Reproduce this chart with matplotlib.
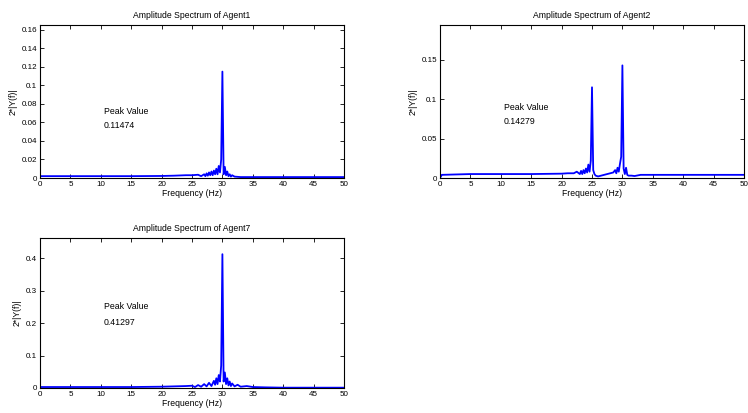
import matplotlib
matplotlib.use("Agg")
import matplotlib.pyplot as plt
from matplotlib.ticker import FuncFormatter

plt.rcParams['font.family'] = ['Liberation Sans', 'DejaVu Sans']

# spectrum values (frequency in Hz, amplitude 2*|Y(f)|)
f1 = [0, 0.2, 5, 10, 15, 20, 22, 24, 25, 26, 26.5, 27, 27.2, 27.4, 27.6, 27.8, 28, 28.2,
      28.4, 28.6, 28.8, 29, 29.2, 29.4, 29.6, 29.8, 30.0, 30.2, 30.4, 30.6, 30.8, 31.0,
      31.2, 31.4, 31.6, 32, 33, 35, 40, 45, 50]
a1 = [0.0015, 0.002, 0.002, 0.002, 0.002, 0.0022, 0.0025, 0.003, 0.003, 0.0035, 0.002,
      0.004, 0.002, 0.005, 0.0025, 0.006, 0.003, 0.007, 0.003, 0.008, 0.004, 0.010, 0.004,
      0.013, 0.006, 0.020, 0.11474, 0.004, 0.012, 0.003, 0.007, 0.002, 0.004, 0.0015,
      0.003, 0.0015, 0.001, 0.001, 0.001, 0.001, 0.001]

f2 = [0, 0.3, 5, 10, 15, 20, 21, 22, 22.5, 23, 23.2, 23.4, 23.6, 23.8, 24, 24.2, 24.4,
      24.6, 24.8, 25.0, 25.2, 25.4, 25.6, 26, 26.5, 27, 28, 28.5, 28.8, 29, 29.2, 29.4,
      29.6, 29.8, 30.0, 30.2, 30.4, 30.6, 30.8, 31, 31.5, 32, 33, 35, 40, 45, 50]
a2 = [0, 0.004, 0.005, 0.005, 0.005, 0.0055, 0.006, 0.006, 0.008, 0.005, 0.009, 0.005,
      0.010, 0.006, 0.012, 0.007, 0.017, 0.008, 0.022, 0.115, 0.01, 0.005, 0.003, 0.002,
      0.003, 0.004, 0.006, 0.007, 0.010, 0.006, 0.013, 0.008, 0.018, 0.027, 0.14279,
      0.012, 0.005, 0.013, 0.004, 0.003, 0.003, 0.0025, 0.004, 0.004, 0.004, 0.004, 0.004]

f7 = [0, 0.2, 5, 10, 15, 20, 22, 24, 25, 25.5, 26, 26.5, 27, 27.4, 27.8, 28.2, 28.6,
      28.8, 29, 29.2, 29.4, 29.6, 29.8, 30, 30.2, 30.4, 30.6, 30.8, 31, 31.2, 31.4, 31.6,
      32, 32.5, 33, 34, 35, 37, 40, 45, 50]
a7 = [0.002, 0.003, 0.003, 0.003, 0.003, 0.004, 0.005, 0.006, 0.007, 0.003, 0.009, 0.004,
      0.012, 0.005, 0.016, 0.006, 0.022, 0.01, 0.03, 0.012, 0.04, 0.02, 0.07, 0.41297,
      0.02, 0.048, 0.012, 0.03, 0.008, 0.02, 0.006, 0.014, 0.005, 0.01, 0.004, 0.006,
      0.003, 0.002, 0.001, 0.001, 0.001]

agents = ["Agent1", "Agent2", "Agent7"]
peaks = ["0.11474", "0.14279", "0.41297"]
ylims = [0.165, 0.194, 0.463]
yticks = [[0, 0.02, 0.04, 0.06, 0.08, 0.1, 0.12, 0.14, 0.16],
          [0, 0.05, 0.1, 0.15],
          [0, 0.1, 0.2, 0.3, 0.4]]
text_y = [(0.072, 0.0565), (0.0897, 0.0712), (0.252, 0.2026)]

W, H = 748, 413
fig = plt.figure(figsize=(W / 100, H / 100), dpi=100)

# axes boxes in pixels: left, top, right, bottom
boxes = [(40, 25, 344, 178), (440, 25, 744, 178), (40, 238, 344, 388)]
series = [(f1, a1), (f2, a2), (f7, a7)]

matlab_fmt = FuncFormatter(lambda v, p: "%g" % round(v, 4))

for i in range(3):
    l, t, r, b = boxes[i]
    ax = fig.add_axes([l / W, 1 - b / H, (r - l) / W, (b - t) / H])
    f, a = series[i]
    ax.plot(f, a, color="#0000ff", lw=1.3)
    ax.set_xlim(0, 50)
    ax.set_ylim(0, ylims[i])
    ax.set_xticks(range(0, 51, 5))
    ax.set_yticks(yticks[i])
    ax.xaxis.set_major_formatter(matlab_fmt)
    ax.yaxis.set_major_formatter(matlab_fmt)
    ax.tick_params(direction="in", top=True, right=True, length=3, width=0.6,
                   labelsize=5.8, pad=2)
    for s in ax.spines.values():
        s.set_linewidth(0.8)
    ax.set_title("Amplitude Spectrum of " + agents[i], fontsize=6.2, pad=5)
    ax.set_xlabel("Frequency (Hz)", fontsize=6.2, labelpad=1)
    ax.set_ylabel("2*|Y(f)|", fontsize=6.2, labelpad=3)
    ax.text(10.5, text_y[i][0], "Peak Value", fontsize=6.3, va="center")
    ax.text(10.5, text_y[i][1], peaks[i], fontsize=6.3, va="center")

fig.savefig("out.png", dpi=100)
